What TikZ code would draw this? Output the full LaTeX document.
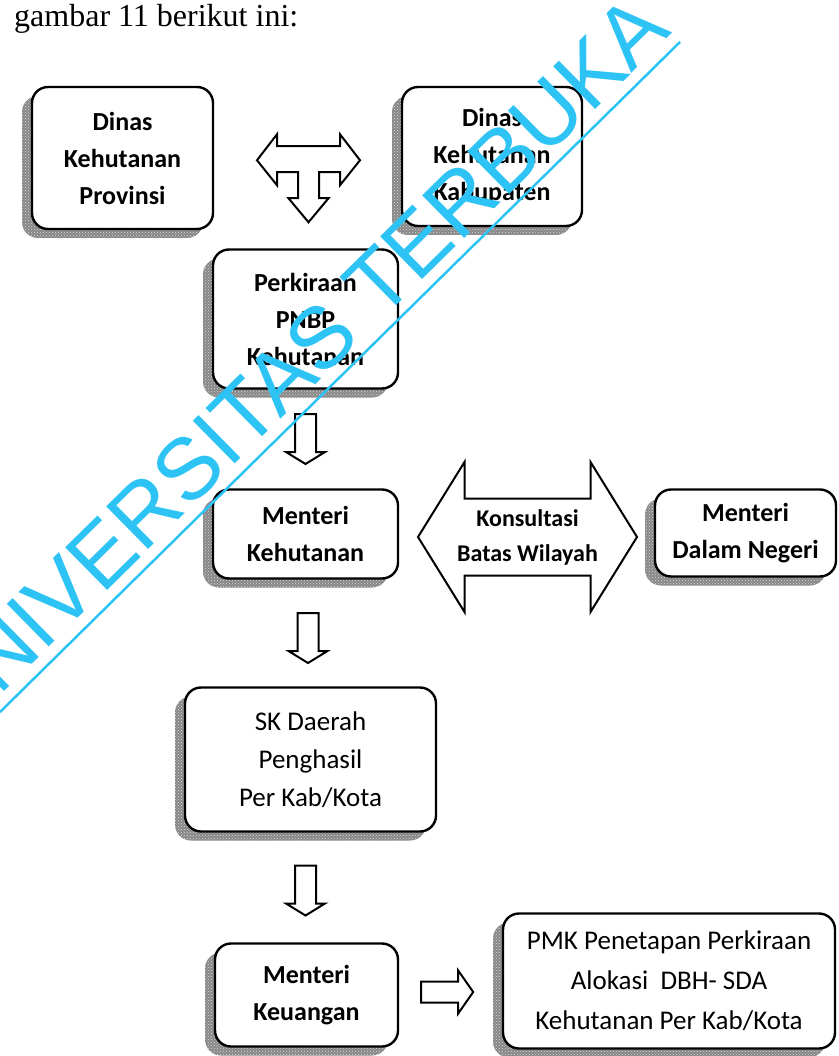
\documentclass[tikz,border=0pt]{standalone}
\usepackage{fontspec}
\setmainfont{Carlito}
\newfontfamily\capfont{Liberation Serif}
\newfontfamily\wmfont{Liberation Sans}
\usetikzlibrary{calc,shadows,patterns}

\definecolor{wmcyan}{RGB}{45,196,245}
\definecolor{shadowgray}{RGB}{135,135,135}

\tikzset{
  box/.style={draw=black, line width=2.4pt, fill=white, rounded corners=16pt,
    inner sep=0pt, align=center,
    drop shadow={shadow xshift=-10pt, shadow yshift=-9pt, fill=shadowgray, opacity=1,
      postaction={pattern=crosshatch dots, pattern color=white!85!black}}},
  boldlbl/.style={font=\fontsize{26pt}{37pt}\selectfont\bfseries},
  reglbl/.style={font=\fontsize{27pt}{38pt}\selectfont},
  blockarrow/.style={draw=black, line width=2pt, fill=white, line join=miter},
  % outlined block arrow pointing down, centred on its position
  downblock/.pic={
    \path[blockarrow] (-10.5,-25) -- (10.5,-25) -- (10.5,13) -- (19.5,13) -- (0,25)
      -- (-19.5,13) -- (-10.5,13) -- cycle;
  },
  % outlined block arrow pointing right
  rightblock/.pic={
    \path[blockarrow] (-26,-10.5) -- (11,-10.5) -- (11,-21.5) -- (26,0) -- (11,21.5)
      -- (11,10.5) -- (-26,10.5) -- cycle;
  },
  % left/right arrow with a branch pointing down
  teeblock/.pic={
    \path[blockarrow] (-51.5,0) -- (-31.5,-26) -- (-31.5,-14) -- (31.5,-14) -- (31.5,-26)
      -- (51.5,0) -- (31.5,25) -- (31.5,12) -- (10.5,12) -- (10.5,38) -- (20,38)
      -- (0,62) -- (-20,38) -- (-10.5,38) -- (-10.5,12) -- (-31.5,12) -- (-31.5,25) -- cycle;
  },
  % wide double-headed arrow
  twinblock/.pic={
    \path[blockarrow] (-109.5,0) -- (-63,-75) -- (-63,-38.5) -- (63,-38.5) -- (63,-75)
      -- (109.5,0) -- (63,75) -- (63,38.5) -- (-63,38.5) -- (-63,75) -- cycle;
  },
  wmtext/.style={font=\wmfont\fontsize{87pt}{90pt}\selectfont, text=wmcyan, inner sep=0pt},
}

\begin{document}
\begin{tikzpicture}[x=1pt, y=-1pt]
  \useasboundingbox (0,0) rectangle (838,1056);
  \clip (0,0) rectangle (838,1056);
  \fill[white] (0,0) rectangle (838,1056);

  % caption line
  \node[font=\capfont\fontsize{32pt}{36pt}\selectfont, anchor=base west, inner sep=0pt]
    (cap) at (14,27) {gambar 11 berikut ini:};

  % boxes
  \node[box, boldlbl, minimum width=181pt, minimum height=142pt] (b1) at (122.5,158)
    {Dinas\\Kehutanan\\Provinsi};
  \node[box, boldlbl, minimum width=180pt, minimum height=139pt] (b2) at (492,156.5)
    {Dinas\\Kehutanan\\Kabupaten};
  \node[box, boldlbl, minimum width=185pt, minimum height=139pt] (b3) at (305.5,319)
    {Perkiraan\\PNBP\\Kehutanan};
  \node[box, boldlbl, minimum width=185pt, minimum height=89pt] (b4) at (305.5,534)
    {Menteri\\Kehutanan};
  \node[box, boldlbl, minimum width=181pt, minimum height=87pt] (b5) at (745.5,533)
    {Menteri\\Dalam Negeri};
  \node[box, reglbl, minimum width=251pt, minimum height=144pt] (b6) at (310.5,759.5)
    {SK Daerah\\Penghasil\\Per Kab/Kota};
  \node[box, boldlbl, minimum width=183pt, minimum height=103pt] (b7) at (306.5,995)
    {Menteri\\Keuangan};
  \node[box, reglbl, minimum width=332pt, minimum height=135pt, font=\fontsize{27pt}{40pt}\selectfont]
    (b8) at (669,981)
    {PMK Penetapan Perkiraan\\Alokasi~~DBH-~SDA\\Kehutanan Per Kab/Kota};

  % block arrows between the boxes
  \pic at ($(b1.east)!0.5!(b2.west)+(1,3)$) {teeblock};
  \pic at ($(b3.south)!0.5!(b4.north)$) {downblock};
  \pic at ($(b4.south)!0.5!(b6.north)+(0,5)$) {downblock};
  \pic at ($(b6.south)!0.5!(b7.north)+(-3,3)$) {downblock};
  \pic at ($(b7.east)+(48,-3)$) {rightblock};
  \pic at ($(b4.east)!0.5!(b5.west)+(1,3.5)$) {twinblock};
  \node[inner sep=0pt, align=center, font=\fontsize{24pt}{35pt}\selectfont\bfseries]
    (kons) at ($(b4.east)!0.5!(b5.west)+(1,3.5)$) {Konsultasi\\Batas Wilayah};

  % watermark
  \coordinate (wmA) at (0,712);
  \coordinate (wmB) at (680,42);
  \draw[wmcyan, line width=2.5pt] (wmA) -- (wmB);
  \node[wmtext, rotate=44.57, anchor=base east] (wm) at (673,33) {UNIVERSITAS TERBUKA};
\end{tikzpicture}
\end{document}
